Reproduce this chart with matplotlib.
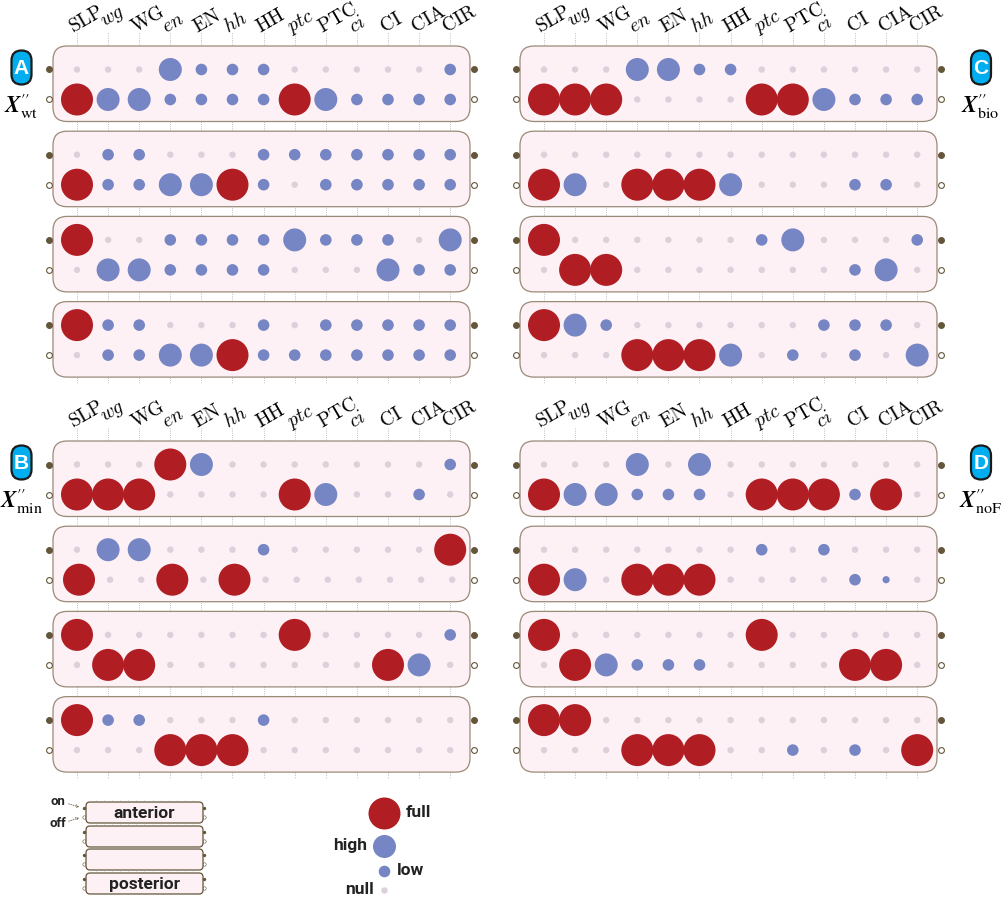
import numpy as np
import matplotlib
matplotlib.use('Agg')
import matplotlib.pyplot as plt
from matplotlib.patches import FancyBboxPatch

plt.rcParams['mathtext.fontset'] = 'cm'

genes = ['SLP', 'wg', 'WG', 'en', 'EN', 'hh', 'HH', 'ptc', 'PTC', 'ci', 'CI', 'CIA', 'CIR']
italic_genes = ['wg', 'en', 'hh', 'ptc', 'ci']

# 0 null, 1 low, 2 high, 3 full, 4 very low; each panel has on/off rows for 4 cells
panel_a = [
    [0, 0, 0, 2, 1, 1, 1, 0, 0, 0, 0, 0, 1],
    [3, 2, 2, 1, 1, 1, 1, 3, 2, 1, 1, 1, 1],
    [0, 1, 1, 0, 0, 0, 1, 1, 1, 1, 1, 1, 1],
    [3, 1, 1, 2, 2, 3, 1, 0, 1, 1, 1, 1, 1],
    [3, 0, 0, 1, 1, 1, 1, 2, 1, 1, 1, 0, 2],
    [0, 2, 2, 1, 1, 1, 1, 0, 0, 0, 2, 1, 1],
    [3, 1, 1, 0, 0, 0, 1, 0, 1, 1, 1, 1, 1],
    [0, 1, 1, 2, 2, 3, 1, 1, 1, 1, 1, 1, 1],
]
panel_b = [
    [0, 0, 0, 3, 2, 0, 0, 0, 0, 0, 0, 0, 1],
    [3, 3, 3, 0, 0, 0, 0, 3, 2, 0, 0, 1, 0],
    [0, 2, 2, 0, 0, 0, 1, 0, 0, 0, 0, 0, 3],
    [3, 0, 0, 3, 0, 3, 0, 0, 0, 0, 0, 0, 0],
    [3, 0, 0, 0, 0, 0, 0, 3, 0, 0, 0, 0, 1],
    [0, 3, 3, 0, 0, 0, 0, 0, 0, 0, 3, 2, 0],
    [3, 1, 1, 0, 0, 0, 1, 0, 0, 0, 0, 0, 0],
    [0, 0, 0, 3, 3, 3, 0, 0, 0, 0, 0, 0, 0],
]
panel_c = [
    [0, 0, 0, 2, 2, 1, 1, 0, 0, 0, 0, 0, 0],
    [3, 3, 3, 0, 0, 0, 0, 3, 3, 2, 1, 1, 1],
    [0, 0, 0, 0, 0, 0, 0, 0, 0, 0, 0, 0, 0],
    [3, 2, 0, 3, 3, 3, 2, 0, 0, 0, 1, 1, 0],
    [3, 0, 0, 0, 0, 0, 0, 1, 2, 0, 0, 0, 1],
    [0, 3, 3, 0, 0, 0, 0, 0, 0, 0, 1, 2, 0],
    [3, 2, 1, 0, 0, 0, 0, 0, 0, 1, 1, 1, 0],
    [0, 0, 0, 3, 3, 3, 2, 0, 1, 0, 1, 0, 2],
]
panel_d = [
    [0, 0, 0, 2, 0, 2, 0, 0, 0, 0, 0, 0, 0],
    [3, 2, 2, 1, 1, 1, 0, 3, 3, 3, 1, 3, 0],
    [0, 0, 0, 0, 0, 0, 0, 1, 0, 1, 0, 0, 0],
    [3, 2, 0, 3, 3, 3, 0, 0, 0, 0, 1, 4, 0],
    [3, 0, 0, 0, 0, 0, 0, 3, 0, 0, 0, 0, 0],
    [0, 3, 2, 1, 1, 1, 0, 0, 0, 0, 3, 3, 0],
    [3, 3, 0, 0, 0, 0, 0, 0, 0, 0, 0, 0, 0],
    [0, 0, 0, 3, 3, 3, 0, 0, 1, 0, 1, 0, 3],
]

radius = [3.2, 5.8, 11.5, 16.0, 3.6]
colors = ['#DCD0DA', '#7685C3', '#7685C3', '#B01E24', '#7685C3']
PINK = '#FDF1F5'
EDGE = '#9A8A78'
DARK = '#65553B'
BLUE = '#00AEEF'
NARROW = ['Liberation Sans Narrow', 'Roboto', 'DejaVu Sans']

fig = plt.figure(figsize=(10.04, 9.05), dpi=100)
ax = fig.add_axes([0, 0, 1, 1])
ax.set_xlim(0, 1004)
ax.set_ylim(905, 0)
ax.axis('off')


def pt_size(r):
    # scatter wants points^2, radius is in pixels
    return (2 * r * 0.72) ** 2


def draw_panel(states, x0, y0, letter, name, badge_x, shifted_row=None):
    xs = x0 + 24 + np.arange(13) * 31.1
    tops = y0 + np.arange(4) * 85.2

    for x, g in zip(xs, genes):
        ax.plot([x, x], [y0 - 13, tops[-1] + 81], ls=':', lw=0.6, c='#aaaaaa', zorder=1)
        if g in italic_genes:
            lab = r'$\mathit{%s}$' % g
        else:
            lab = r'$\mathrm{%s}$' % g
        yoff = 19 if g == 'wg' else 13
        ax.text(x - 4, y0 - yoff, lab, fontsize=14, rotation=30, ha='left', va='baseline',
                rotation_mode='anchor', zorder=5)

    for i, top in enumerate(tops):
        box = FancyBboxPatch((x0, top), 417, 75.5, boxstyle='round,pad=0,rounding_size=14',
                             fc=PINK, ec=EDGE, lw=0.9, zorder=2)
        ax.add_patch(box)
        for j, row_y in enumerate([top + 23.5, top + 53.5]):
            vals = np.array(states[i * 2 + j])
            row_xs = xs + 2 if shifted_row == i * 2 + j else xs
            ax.scatter(row_xs, np.full(13, row_y), s=[pt_size(radius[v]) for v in vals],
                       c=[colors[v] for v in vals], lw=0, zorder=3)
            fc = DARK if j == 0 else 'white'
            ax.scatter([x0 - 3.5, x0 + 421], [row_y, row_y], s=pt_size(2.9), c=fc,
                       edgecolors=DARK, lw=0.8, zorder=3)

    badge = FancyBboxPatch((badge_x - 10, y0 + 4.5), 20, 34, boxstyle='round,pad=0,rounding_size=10',
                           fc=BLUE, ec='#1A1A1A', lw=1.6, zorder=4)
    ax.add_patch(badge)
    ax.text(badge_x, y0 + 22.5, letter, color='white', fontsize=15, fontweight='bold',
            family='Liberation Sans', ha='center', va='center', zorder=5)
    ax.text(badge_x - 0.5, y0 + 60.5, r'$\mathbfit{X}^{\prime\prime}_{\mathrm{%s}}$' % name, fontsize=16.5,
            math_fontfamily='stix', ha='center', va='center', zorder=5)


draw_panel(panel_a, 53, 46, 'A', 'wt', 21.5)
draw_panel(panel_b, 53, 441, 'B', 'min', 21.5, shifted_row=3)
draw_panel(panel_c, 520, 46, 'C', 'bio', 981)
draw_panel(panel_d, 520, 441, 'D', 'noF', 981)

# key for the cells
key_tops = [802, 826, 849, 873]
for t in key_tops:
    ax.add_patch(FancyBboxPatch((86, t), 117, 21, boxstyle='round,pad=0,rounding_size=4',
                                fc=PINK, ec=DARK, lw=0.9, zorder=2))
    ax.scatter([84, 204], [t + 6, t + 6], s=pt_size(1.7), c=DARK, lw=0, zorder=3)
    ax.scatter([84, 204], [t + 15, t + 15], s=pt_size(1.7), c='white', edgecolors=DARK, lw=0.4, zorder=1)
    for x in np.linspace(96, 193, 13):
        ax.plot([x, x], [t - 2, t], ls=':', lw=0.4, c='#999999', zorder=1)

ax.text(144.5, 813, 'anterior', family=NARROW, fontsize=12.5, fontweight='bold', ha='center', va='center', color='#222222')
ax.text(144.5, 884, 'posterior', family=NARROW, fontsize=12.5, fontweight='bold', ha='center', va='center', color='#222222')
ax.text(58, 801, 'on', family=NARROW, fontsize=9.5, fontweight='bold', ha='center', va='center', color='#222222')
ax.text(58, 823, 'off', family=NARROW, fontsize=9.5, fontweight='bold', ha='center', va='center', color='#222222')
ax.annotate('', xy=(82, 808), xytext=(66, 803), arrowprops=dict(arrowstyle='->', ls=':', lw=0.6, color=DARK, mutation_scale=5))
ax.annotate('', xy=(82, 817), xytext=(66, 822), arrowprops=dict(arrowstyle='->', ls=':', lw=0.6, color=DARK, mutation_scale=5))

# size legend
legend_states = [3, 2, 1, 0]
legend_names = ['full', 'high', 'low', 'null']
legend_y = [813, 846, 871, 890]
legend_text_x = [406, 367, 397, 374]
legend_ha = ['left', 'right', 'left', 'right']
for st, nm, ly, tx, ha in zip(legend_states, legend_names, legend_y, legend_text_x, legend_ha):
    ax.scatter([384.5], [ly], s=pt_size(radius[st]), c=colors[st], lw=0, zorder=3)
    ax.text(tx, ly - 0.5, nm, family=NARROW, fontsize=12.5, fontweight='bold', ha=ha, va='center', color='#222222')

fig.savefig('out.png', dpi=100)
